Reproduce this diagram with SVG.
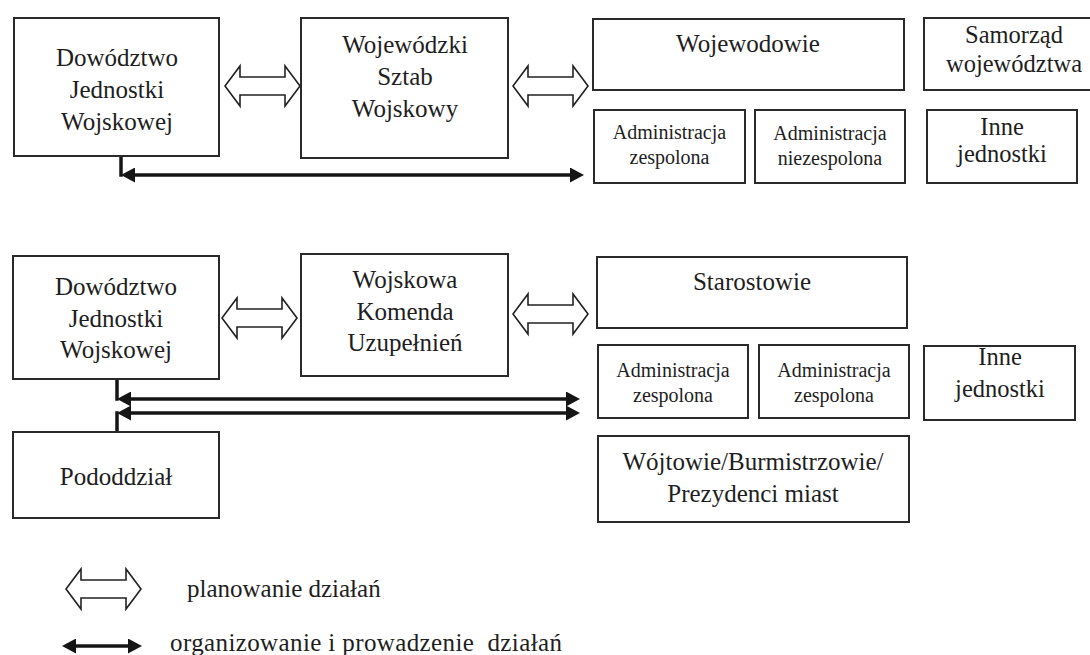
<svg xmlns="http://www.w3.org/2000/svg" xmlns:xlink="http://www.w3.org/1999/xlink" width="1090" height="655" viewBox="0 0 1090 655">
<style>
.box{fill:#fff;stroke:#2a2a2a;stroke-width:2}
text{font-family:'Liberation Serif','Times New Roman',Tinos,'DejaVu Serif',serif;fill:#1e1e1e}
.t{font-size:25px;text-anchor:middle}
.s{font-size:20px}
.m{font-size:24.5px}
.lg{font-size:25px}
.hol{fill:#fff;stroke:#222;stroke-width:1.6;stroke-linejoin:miter}
.sol{stroke:#151515;stroke-width:3.5;fill:none}
</style>
<defs>
<path id="hollow" d="M0,0 L15,-20 L15,-9 L60,-9 L60,-20 L75,0 L60,20 L60,9 L15,9 L15,20 Z"/>
<marker id="ah" viewBox="0 0 14 15" refX="4" refY="7.5" markerWidth="14" markerHeight="15" markerUnits="userSpaceOnUse" orient="auto-start-reverse">
<path d="M0,0 L14,7.5 L0,15 Z" fill="#151515"/>
</marker>
</defs>
<rect width="1090" height="655" fill="#fff"/>

<g id="connectors">
<use xlink:href="#hollow" class="hol" transform="translate(225,86)"/>
<use xlink:href="#hollow" class="hol" transform="translate(513,86)"/>
<use xlink:href="#hollow" class="hol" transform="translate(222,318)"/>
<use xlink:href="#hollow" class="hol" transform="translate(513,314)"/>
<line class="sol" x1="121" y1="156" x2="121" y2="176.75"/>
<line class="sol" x1="131" y1="175" x2="574" y2="175" marker-start="url(#ah)" marker-end="url(#ah)"/>
<line class="sol" x1="117" y1="379" x2="117" y2="400.75"/>
<line class="sol" x1="127" y1="399" x2="570" y2="399" marker-start="url(#ah)" marker-end="url(#ah)"/>
<line class="sol" x1="127" y1="413" x2="570" y2="413" marker-start="url(#ah)" marker-end="url(#ah)"/>
<line class="sol" x1="117" y1="411.25" x2="117" y2="432"/>
</g>

<g id="dowodztwo-1">
<rect class="box" x="14" y="18" width="205" height="138"/>
<text class="t" x="117" y="66">Dowództwo</text>
<text class="t" x="117" y="98">Jednostki</text>
<text class="t" x="117" y="130">Wojskowej</text>
</g>
<g id="wsw">
<rect class="box" x="301" y="18" width="207" height="140"/>
<text class="t" x="405" y="53">Wojewódzki</text>
<text class="t" x="405" y="85">Sztab</text>
<text class="t" x="405" y="117">Wojskowy</text>
</g>
<g id="wojewodowie">
<rect class="box" x="593" y="19" width="311" height="71"/>
<text class="t" x="748" y="52">Wojewodowie</text>
</g>
<g id="samorzad">
<rect class="box" x="924" y="18" width="180" height="72"/>
<text class="t m" x="1014" y="43">Samorząd</text>
<text class="t m" x="1014" y="72">województwa</text>
</g>
<g id="adm-zesp-1">
<rect class="box" x="594" y="110" width="151" height="73"/>
<text class="t s" x="669.5" y="139">Administracja</text>
<text class="t s" x="669.5" y="164">zespolona</text>
</g>
<g id="adm-niezesp">
<rect class="box" x="755" y="110" width="150" height="73"/>
<text class="t s" x="830" y="140">Administracja</text>
<text class="t s" x="830" y="165">niezespolona</text>
</g>
<g id="inne-1">
<rect class="box" x="927" y="110" width="150" height="73"/>
<text class="t m" x="1002" y="135">Inne</text>
<text class="t m" x="1002" y="162">jednostki</text>
</g>

<g id="dowodztwo-2">
<rect class="box" x="13" y="256" width="206" height="123"/>
<text class="t" x="116" y="295">Dowództwo</text>
<text class="t" x="116" y="327">Jednostki</text>
<text class="t" x="116" y="358">Wojskowej</text>
</g>
<g id="wku">
<rect class="box" x="301" y="254" width="207" height="122"/>
<text class="t" x="405" y="288">Wojskowa</text>
<text class="t" x="405" y="320">Komenda</text>
<text class="t" x="405" y="351">Uzupełnień</text>
</g>
<g id="starostowie">
<rect class="box" x="597" y="257" width="310" height="71"/>
<text class="t" x="752" y="290">Starostowie</text>
</g>
<g id="adm-zesp-2">
<rect class="box" x="598" y="345" width="150" height="73"/>
<text class="t s" x="673" y="377">Administracja</text>
<text class="t s" x="673" y="402">zespolona</text>
</g>
<g id="adm-zesp-3">
<rect class="box" x="759" y="345" width="150" height="73"/>
<text class="t s" x="834" y="377">Administracja</text>
<text class="t s" x="834" y="402">zespolona</text>
</g>
<g id="inne-2">
<rect class="box" x="924" y="346" width="151" height="74"/>
<text class="t m" x="1000" y="365">Inne</text>
<text class="t m" x="1000" y="397">jednostki</text>
</g>
<g id="wojtowie">
<rect class="box" x="598" y="436" width="311" height="86"/>
<text class="t" x="753" y="470">Wójtowie/Burmistrzowie/</text>
<text class="t" x="753" y="502">Prezydenci miast</text>
</g>
<g id="pododdzial">
<rect class="box" x="13" y="432" width="206" height="86"/>
<text class="t" x="116" y="485">Pododdział</text>
</g>

<g id="legend">
<use xlink:href="#hollow" class="hol" transform="translate(66,589)"/>
<text class="lg" x="187" y="597">planowanie działań</text>
<line class="sol" x1="72" y1="646" x2="132" y2="646" marker-start="url(#ah)" marker-end="url(#ah)"/>
<text class="lg" x="170" y="651" xml:space="preserve" textLength="392">organizowanie i prowadzenie  działań</text>
</g>
</svg>
